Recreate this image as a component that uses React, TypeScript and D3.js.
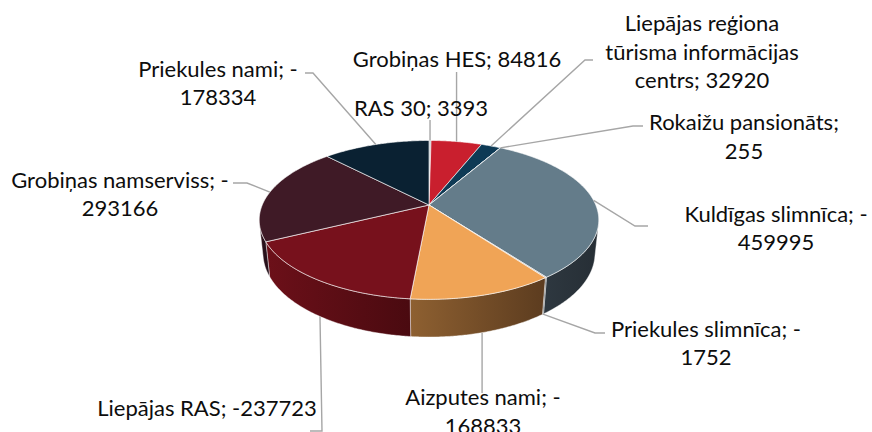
import React from 'react';
import * as d3 from 'd3';

// pie order, clockwise from 12 o'clock
const categories = [
  'RAS 30',
  'Grobiņas HES',
  'Liepājas reģiona tūrisma informācijas centrs',
  'Rokaižu pansionāts',
  'Kuldīgas slimnīca',
  'Priekules slimnīca',
  'Aizputes nami',
  'Liepājas RAS',
  'Grobiņas namserviss',
  'Priekules nami',
];
const values = [3393, 84816, 32920, 255, -459995, -1752, -168833, -237723, -293166, -178334];

// styles
const topColors = ['#A9B3BB', '#C91F2E', '#0E3A55', '#D0D6DA', '#647C8A', '#8E9CA5', '#F0A456', '#77111C', '#3F1A26', '#0A2132'];
const wallLight = ['#5A6268', '#7A1019', '#0A2638', '#70777C', '#2E3840', '#4A535A', '#8E6031', '#6C1019', '#2E121B', '#061520'];
const wallDark = ['#40464B', '#560B12', '#061A27', '#50565A', '#262E35', '#353C42', '#5C3C1F', '#4A0A10', '#24101A', '#040E16'];

// label layout: block centre, wrap width, leader points after the anchor (null x = anchor x)
const labelCenters = [[421, 107], [457, 58], [702, 51], [744, 136], [776, 227.5], [706, 342.5], [483, 411], [207, 407], [120, 193.5], [218, 82.5]];
const wrapWidths = [260, 260, 225, 210, 210, 210, 210, 260, 240, 200];
const leaderPoints: (number | null)[][][] = [
  [[null, 120]],
  [[null, 72]],
  [[585, 60], [593, 60]],
  [[633, 126], [643, 126]],
  [[635, 226], [648, 226]],
  [[595, 333], [605, 333]],
  [[null, 393]],
  [[322, 431], [310, 431]],
  [[247, 183], [233, 183]],
  [[313, 73], [305, 73]],
];

const FONT_SIZE = 22;
const FONT_FAMILY = 'Lato, Carlito, Calibri, sans-serif';
const LINE_H = 28.5;

// perspective projection of the disc
const CX = 429, CY = 205;
const FOCAL = 790, DIST = 4.737;
const SIN_T = 0.4595, COS_T = Math.sqrt(1 - SIN_T * SIN_T);
const THICK = 0.2265;

function project(r: number, a: number, y: number): [number, number] {
  const X = r * Math.sin(a), Z = r * Math.cos(a);
  const yv = y * COS_T + Z * SIN_T;
  const zv = -y * SIN_T + Z * COS_T;
  const k = FOCAL / (DIST + zv);
  return [CX + X * k, CY - yv * k];
}

// wall faces the camera where cos(a) < -1/(D cos t)
const wallMin = Math.acos(-1 / (DIST * COS_T));
const wallMax = 2 * Math.PI - wallMin;

let ctx: CanvasRenderingContext2D | null = null;
function measure(s: string) {
  if (!ctx) ctx = document.createElement('canvas').getContext('2d');
  ctx!.font = `${FONT_SIZE}px ${FONT_FAMILY}`;
  return ctx!.measureText(s).width;
}

function wrap(text: string, maxW: number) {
  const parts = (text.match(/[^\s-]*(?:\s+|-|$)/g) || []).filter(p => p);
  const lines: string[] = [];
  let cur = '';
  for (const p of parts) {
    const test = cur + p;
    if (cur && measure(test.trimEnd()) > maxW) {
      lines.push(cur.trimEnd());
      cur = p;
    } else cur = test;
  }
  if (cur) lines.push(cur.trimEnd());
  return lines;
}

const arcPts = (a0: number, a1: number, y: number) => {
  const step = Math.PI / 360;
  return d3.range(a0, a1, step).concat([a1]).map(a => project(1, a, y));
};

export default function App() {
  const pie = d3.pie<number>().sort(null).value(d => Math.abs(d)).startAngle(0).endAngle(2 * Math.PI);
  const arcs = pie(values);
  const line = d3.line();

  const walls = arcs.map((d, i) => {
    const s = Math.max(d.startAngle, wallMin);
    const e = Math.min(d.endAngle, wallMax);
    if (e <= s) return null;
    const top = arcPts(s, e, 0);
    const bot = arcPts(s, e, -THICK).reverse();
    return { i, path: line([...top, ...bot])! + 'Z' };
  }).filter(Boolean) as { i: number; path: string }[];

  const tops = arcs.map((d, i) => ({
    i,
    path: line([project(0, 0, 0), ...arcPts(d.startAngle, d.endAngle, 0)])! + 'Z',
  }));

  const labels = arcs.map((d, i) => {
    const m = (d.startAngle + d.endAngle) / 2;
    const anchor = m > wallMin && m < wallMax ? project(1, m, -THICK) : project(1, m, 0);
    const pts: [number, number][] = [anchor, ...leaderPoints[i].map(p => [p[0] ?? anchor[0], p[1] as number] as [number, number])];
    const text = `${categories[i]}; ${values[i]}`;
    const lines = wrap(text, wrapWidths[i]);
    return { i, pts, lines };
  });

  return (
    <svg width={872} height={432} style={{ position: 'absolute', left: 0, top: 0, background: '#fff' }}>
      <defs>
        {walls.map(w => (
          <linearGradient key={w.i} id={`wall-${w.i}`} x1="0" x2="1" y1="0" y2="0">
            <stop offset="0" stopColor={wallLight[w.i]} />
            <stop offset="1" stopColor={wallDark[w.i]} />
          </linearGradient>
        ))}
      </defs>
      <g>
        {walls.map(w => (
          <path key={w.i} d={w.path} fill={`url(#wall-${w.i})`} stroke="rgba(255,255,255,0.55)" strokeWidth={0.8} strokeLinejoin="round" />
        ))}
        {tops.map(t => (
          <path key={t.i} d={t.path} fill={topColors[t.i]} stroke="rgba(255,255,255,0.7)" strokeWidth={0.9} strokeLinejoin="round" />
        ))}
      </g>
      <g fill="none" stroke="#A6A6A6" strokeWidth={1.4}>
        {labels.map(l => (
          <path key={l.i} d={line(l.pts)!} />
        ))}
      </g>
      <g fontFamily={FONT_FAMILY} fontSize={FONT_SIZE} fill="#0D0D0D" textAnchor="middle">
        {labels.map(l => (
          <text key={l.i}>
            {l.lines.map((s, j) => (
              <tspan key={j} x={labelCenters[l.i][0]} y={labelCenters[l.i][1] + (j - (l.lines.length - 1) / 2) * LINE_H} dominantBaseline="central">
                {s}
              </tspan>
            ))}
          </text>
        ))}
      </g>
    </svg>
  );
}
